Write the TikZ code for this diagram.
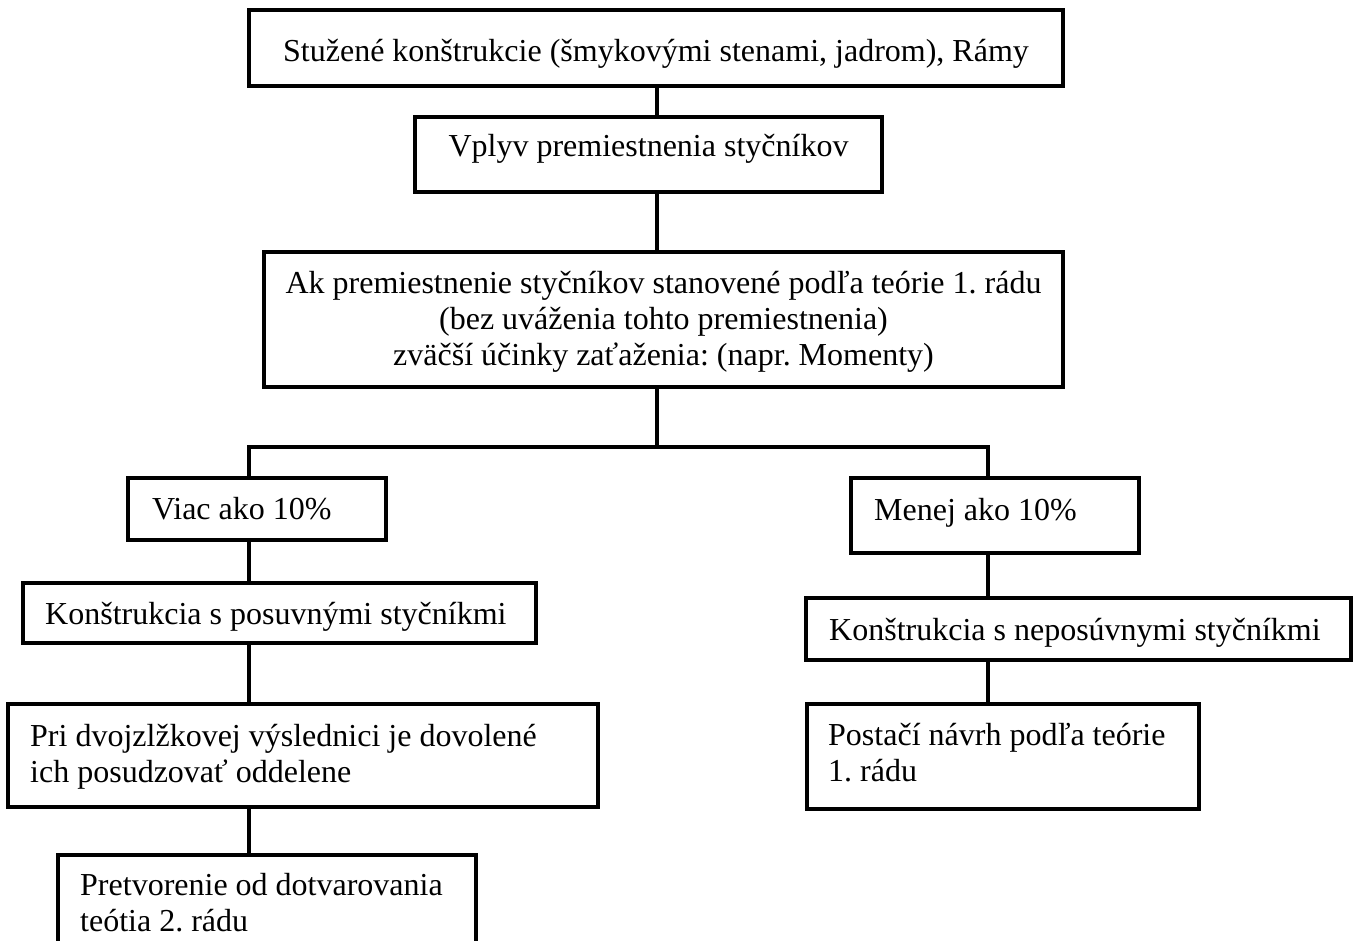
\documentclass[tikz,border=0pt]{standalone}
\usepackage{fontspec}
\setmainfont{Liberation Serif}
\begin{document}
\frenchspacing
\begin{tikzpicture}[x=1pt,y=-1pt,
  box/.style={draw, line width=3.2pt, inner sep=0pt},
  link/.style={line width=3.2pt},
  lbl/.style={inner sep=0pt, font=\fontsize{32}{36}\selectfont\frenchspacing}]
\useasboundingbox (0,0) rectangle (1353,941);
\clip (0,0) rectangle (1353,941);

% boxes
\node[box, minimum width=814pt, minimum height=76pt]  (b1)    at (656,48)      {};
\node[box, minimum width=467pt, minimum height=75pt]  (b2)    at (648.5,154.5) {};
\node[box, minimum width=799pt, minimum height=135pt] (b3)    at (663.5,319.5) {};
\node[box, minimum width=258pt, minimum height=62pt]  (viac)  at (257,509)     {};
\node[box, minimum width=288pt, minimum height=75pt]  (menej) at (995,515.5)   {};
\node[box, minimum width=513pt, minimum height=60pt]  (kpos)  at (279.5,613)   {};
\node[box, minimum width=545pt, minimum height=62pt]  (knep)  at (1078.5,629)  {};
\node[box, minimum width=590pt, minimum height=103pt] (pri)   at (303,755.5)   {};
\node[box, minimum width=392pt, minimum height=105pt] (post)  at (1003,756.5)  {};
\node[box, minimum width=418pt, minimum height=145pt] (pret)  at (267,927.5)   {};

% texts
\node[lbl, anchor=base] (tb1) at (656,62)
  {Stužené konštrukcie (šmykovými stenami, jadrom), Rámy};
\node[lbl, anchor=base] (tb2) at (648.5,157) {Vplyv premiestnenia styčníkov};
\node[lbl, anchor=base] (tb3) at (663.5,294)
  {\begin{tabular}[t]{@{}c@{}}Ak premiestnenie styčníkov stanovené podľa teórie 1. rádu\\
   (bez uváženia tohto premiestnenia)\\
   zväčší účinky zaťaženia: (napr. Momenty)\end{tabular}};
\node[lbl, anchor=base west] (tviac)  at (152,519) {Viac ako 10\%};
\node[lbl, anchor=base west] (tmenej) at (874,520) {Menej ako 10\%};
\node[lbl, anchor=base west] (tkpos)  at (45,624)  {Konštrukcia s posuvnými styčníkmi};
\node[lbl, anchor=base west] (tknep)  at (829,640) {Konštrukcia s neposúvnymi styčníkmi};
\node[lbl, anchor=base west] (tpri)   at (30,746)
  {\begin{tabular}[t]{@{}l@{}}Pri dvojzlžkovej výslednici je dovolené\\
   ich posudzovať oddelene\end{tabular}};
\node[lbl, anchor=base west] (tpost)  at (828,745)
  {\begin{tabular}[t]{@{}l@{}}Postačí návrh podľa teórie\\ 1. rádu\end{tabular}};
\node[lbl, anchor=base west] (tpret)  at (80,895)
  {\begin{tabular}[t]{@{}l@{}}Pretvorenie od dotvarovania\\ teótia 2. rádu\end{tabular}};

% connectors
\coordinate (spine) at (657,0);
\coordinate (lf) at (249,447);
\coordinate (rf) at (988,447);
\draw[link] (b1.south -| spine) -- (b2.north -| spine);
\draw[link] (b2.south -| spine) -- (b3.north -| spine);
\draw[link] (b3.south -| spine) -- (spine |- lf);
\draw[link] (viac.north -| lf) -- (lf) -- (rf) -- (menej.north -| rf);
\draw[link] (viac.south -| lf) -- (kpos.north -| lf);
\draw[link] (kpos.south -| lf) -- (pri.north -| lf);
\draw[link] (pri.south -| lf) -- (pret.north -| lf);
\draw[link] (menej.south -| rf) -- (knep.north -| rf);
\draw[link] (knep.south -| rf) -- (post.north -| rf);
\end{tikzpicture}
\end{document}
